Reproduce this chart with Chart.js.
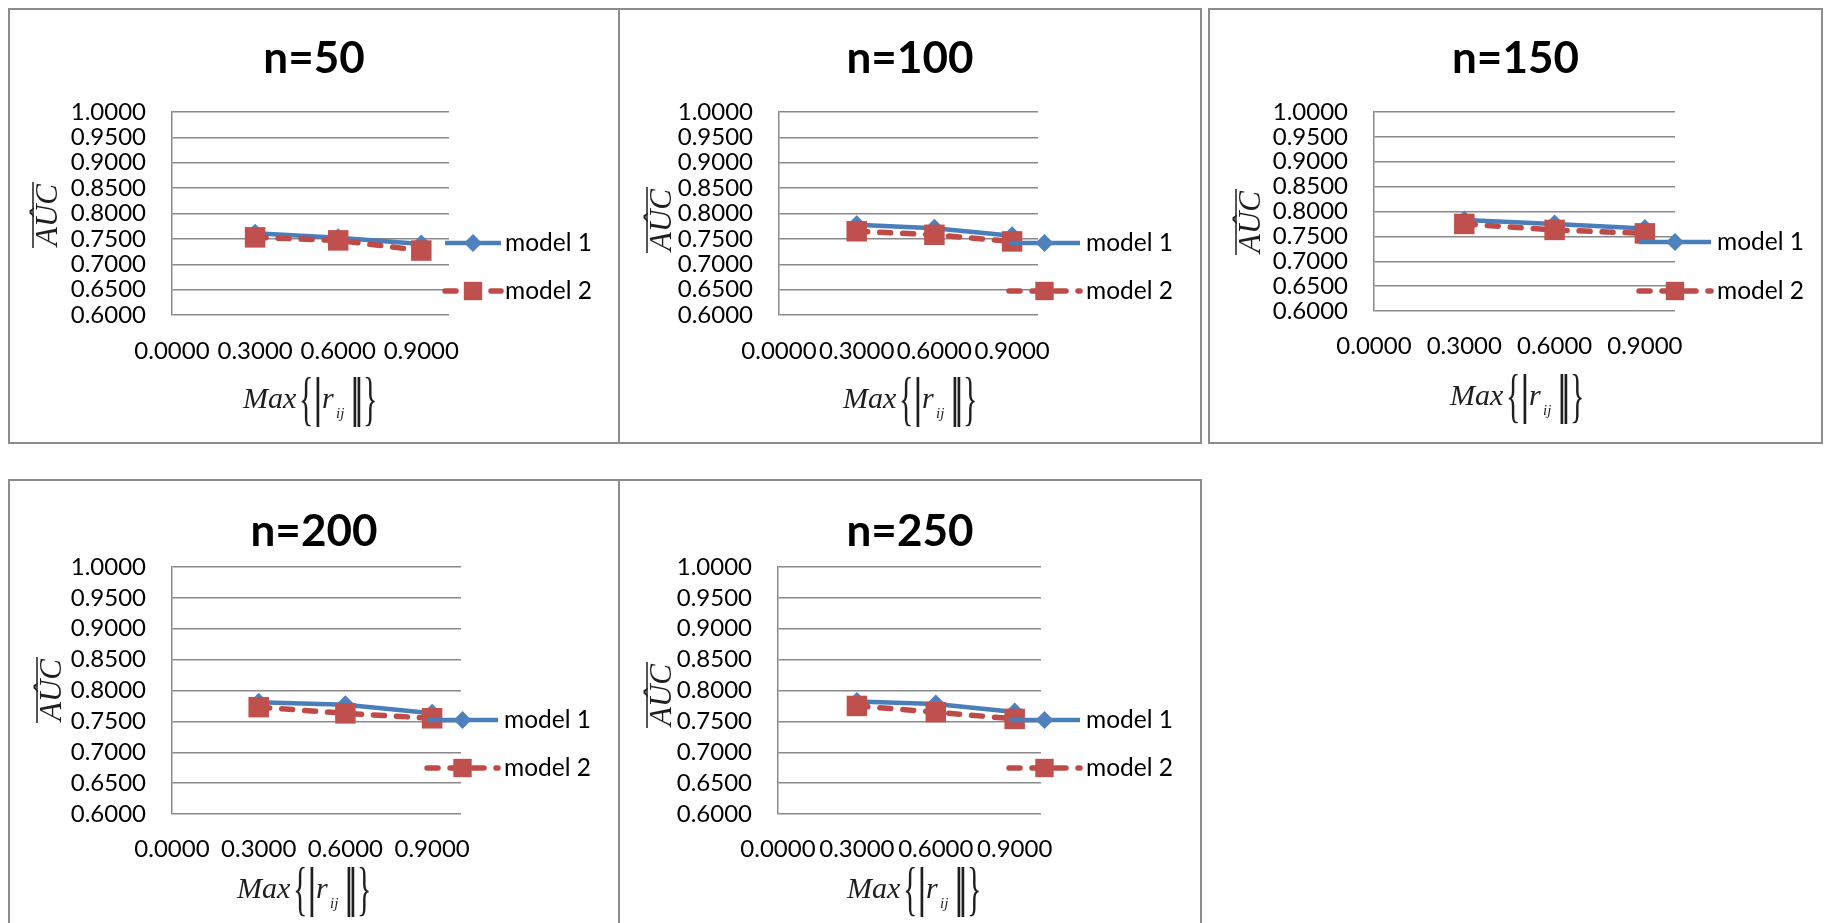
<!DOCTYPE html>
<html>
<head>
<meta charset="utf-8">
<script src="https://cdn.jsdelivr.net/npm/chart.js@4.4.1/dist/chart.umd.min.js"></script>
<style>
html, body { margin: 0; padding: 0; background: #fff; overflow: hidden; width: 1827px; height: 923px; }
.panel { position: absolute; border: 2px solid #8c8c8c; box-sizing: border-box; background: #fff; }
.panel canvas { position: absolute; left: 0; top: 0; }
</style>
</head>
<body>
<script>
// values
const xValues = [0.3, 0.6, 0.9];
const xTicks = [0, 0.3, 0.6, 0.9];
const yTicks = [0.6, 0.65, 0.7, 0.75, 0.8, 0.85, 0.9, 0.95, 1.0];
const titles = ['n=50', 'n=100', 'n=150', 'n=200', 'n=250'];
const seriesNames = ['model 1', 'model 2'];

const model1_n50 = [0.761, 0.752, 0.740];
const model2_n50 = [0.753, 0.747, 0.727];
const model1_n100 = [0.778, 0.771, 0.756];
const model2_n100 = [0.765, 0.758, 0.745];
const model1_n150 = [0.783, 0.775, 0.766];
const model2_n150 = [0.775, 0.763, 0.756];
const model1_n200 = [0.781, 0.777, 0.763];
const model2_n200 = [0.773, 0.763, 0.755];
const model1_n250 = [0.782, 0.778, 0.765];
const model2_n250 = [0.775, 0.765, 0.754];

const model1 = [model1_n50, model1_n100, model1_n150, model1_n200, model1_n250];
const model2 = [model2_n50, model2_n100, model2_n150, model2_n200, model2_n250];

// page positions of each panel (px)
const layouts = [
  { box: [8, 8, 612, 436], plot: [172, 449, 112, 315], titleY: 59, xLabY: 351,
    leg: [445, 501, 505, 243, 291], yTitle: [49, 215], xTitle: [308, 408] },
  { box: [618, 8, 584, 436], plot: [779, 1038, 112, 315], titleY: 59, xLabY: 351,
    leg: [1009, 1080, 1086, 243, 291], yTitle: [663, 220], xTitle: [908, 408] },
  { box: [1208, 8, 615, 436], plot: [1374, 1675, 112, 311], titleY: 59, xLabY: 346,
    leg: [1639, 1711, 1717, 242, 291], yTitle: [1252, 222], xTitle: [1515, 405] },
  { box: [8, 479, 612, 460], plot: [172, 461, 567, 814], titleY: 532, xLabY: 849,
    leg: [427, 498, 504, 720, 768], yTitle: [53, 690], xTitle: [302, 898] },
  { box: [618, 479, 584, 460], plot: [778, 1041, 567, 814], titleY: 532, xLabY: 849,
    leg: [1009, 1080, 1086, 720, 768], yTitle: [663, 695], xTitle: [912, 898] }
];

Chart.defaults.font.family = 'Lato';
Chart.defaults.color = '#000';

function marker(ctx, style, r, x, y) {
  ctx.beginPath();
  if (style === 'rectRot') {
    ctx.moveTo(x - r, y); ctx.lineTo(x, y - r); ctx.lineTo(x + r, y); ctx.lineTo(x, y + r);
  } else {
    const h = r * Math.SQRT1_2;
    ctx.rect(x - h, y - h, 2 * h, 2 * h);
  }
  ctx.closePath();
  ctx.fill();
}

function drawMaxTitle(ctx, cx, base) {
  ctx.save();
  ctx.fillStyle = '#1e1e1e';
  ctx.textAlign = 'left';
  ctx.textBaseline = 'alphabetic';
  const x0 = cx - 65;
  ctx.font = 'italic 30px "Liberation Serif"';
  ctx.fillText('Max', x0, base);
  const brace = (ch, x) => {
    ctx.save();
    ctx.font = '60px "Liberation Serif"';
    ctx.translate(x, base + 10);
    ctx.scale(0.5, 1);
    ctx.fillText(ch, 0, 0);
    ctx.restore();
  };
  const bar = (x) => {
    ctx.save();
    ctx.font = '54px "Liberation Serif"';
    ctx.textAlign = 'center';
    ctx.fillText('|', x, base + 7);
    ctx.restore();
  };
  brace('{', x0 + 56);
  bar(x0 + 75);
  ctx.font = 'italic 30px "Liberation Serif"';
  ctx.fillText('r', x0 + 79, base);
  ctx.font = 'italic 15px "Liberation Serif"';
  ctx.fillText('ij', x0 + 93, base + 10);
  bar(x0 + 112);
  bar(x0 + 116);
  brace('}', x0 + 120);
  ctx.restore();
}

const decor = {
  id: 'decor',
  afterDraw(chart, args, o) {
    const ctx = chart.ctx;
    const [ox, oy] = o.origin;
    const L = o.layout;
    // legend
    chart.data.datasets.forEach((ds, i) => {
      const y = L.leg[3 + i] - oy;
      const x0 = L.leg[0] - ox, x1 = L.leg[1] - ox;
      ctx.save();
      ctx.strokeStyle = ds.borderColor;
      ctx.lineWidth = ds.borderWidth;
      ctx.lineCap = ds.borderCapStyle || 'butt';
      ctx.setLineDash(ds.borderDash || []);
      ctx.beginPath(); ctx.moveTo(x0, y); ctx.lineTo(x1, y); ctx.stroke();
      ctx.setLineDash([]);
      ctx.fillStyle = ds.pointBackgroundColor;
      marker(ctx, ds.pointStyle, ds.legendRadius, (x0 + x1) / 2, y);
      ctx.fillStyle = '#000';
      ctx.font = '24.5px Lato';
      ctx.textBaseline = 'middle';
      ctx.textAlign = 'left';
      ctx.fillText(ds.label, L.leg[2] - ox, y);
      ctx.restore();
    });
    // y axis title
    ctx.save();
    ctx.translate(L.yTitle[0] - ox, L.yTitle[1] - oy);
    ctx.rotate(-Math.PI / 2);
    ctx.font = 'italic 31px "Liberation Serif"';
    ctx.fillStyle = '#1e1e1e';
    ctx.textAlign = 'center';
    ctx.textBaseline = 'middle';
    ctx.fillText('A\u00DBC', 0, 0);
    const w = ctx.measureText('A\u00DBC').width;
    ctx.strokeStyle = '#1e1e1e';
    ctx.lineWidth = 1.5;
    ctx.beginPath(); ctx.moveTo(-w / 2 - 2, -16); ctx.lineTo(w / 2 + 2, -16); ctx.stroke();
    ctx.restore();
    // x axis title
    drawMaxTitle(ctx, L.xTitle[0] - ox, L.xTitle[1] - oy);
  }
};

layouts.forEach((L, k) => {
  const [bl, bt, bw, bh] = L.box;
  const div = document.createElement('div');
  div.className = 'panel';
  div.style.left = bl + 'px';
  div.style.top = bt + 'px';
  div.style.width = bw + 'px';
  div.style.height = bh + 'px';
  const canvas = document.createElement('canvas');
  const W = bw - 4, H = bh - 4;
  canvas.width = W; canvas.height = H;
  canvas.style.width = W + 'px'; canvas.style.height = H + 'px';
  div.appendChild(canvas);
  document.body.appendChild(div);

  const ox = bl + 2, oy = bt + 2;
  const pl = L.plot[0] - ox, pr = L.plot[1] - ox, pt = L.plot[2] - oy, pb = L.plot[3] - oy;
  const titleSize = 44;
  const titleLH = titleSize * 1.2;
  const tPadTop = (L.titleY - oy) - titleLH / 2;
  const tPadBottom = pt - tPadTop - titleLH;
  const xPad = (L.xLabY - L.plot[3]) - 24 * 1.2 / 2;

  new Chart(canvas, {
    type: 'line',
    data: {
      datasets: [
        {
          label: seriesNames[0],
          data: xValues.map((x, i) => ({ x: x, y: model1[k][i] })),
          borderColor: '#4A7EBB',
          borderWidth: 4.5,
          pointStyle: 'rectRot',
          pointRadius: 9.5,
          pointBorderWidth: 0,
          pointBackgroundColor: '#4F81BD',
          legendRadius: 9,
          order: 1
        },
        {
          label: seriesNames[1],
          data: xValues.map((x, i) => ({ x: x, y: model2[k][i] })),
          borderColor: '#BE4B48',
          borderWidth: 5.5,
          borderDash: [11, 12],
          borderCapStyle: 'round',
          pointStyle: 'rect',
          pointRadius: 14.5,
          pointBorderWidth: 0,
          pointBackgroundColor: '#C0504D',
          legendRadius: 13,
          order: 0
        }
      ]
    },
    options: {
      responsive: false,
      animation: false,
      devicePixelRatio: 1,
      layout: { padding: 0 },
      plugins: {
        legend: { display: false },
        tooltip: { enabled: false },
        title: {
          display: true,
          text: titles[k],
          color: '#000',
          font: { size: titleSize, weight: 'bold', family: 'Lato' },
          padding: { top: tPadTop, bottom: tPadBottom }
        },
        decor: { origin: [ox, oy], layout: L }
      },
      scales: {
        x: {
          type: 'linear',
          min: 0,
          max: 1,
          afterBuildTicks: s => { s.ticks = xTicks.map(v => ({ value: v })); },
          afterFit: s => { s.height = H - pb; },
          ticks: {
            autoSkip: false, maxRotation: 0, minRotation: 0,
            padding: xPad,
            font: { size: 24 },
            color: '#000',
            callback: v => Number(v).toFixed(4)
          },
          grid: { display: false, drawTicks: false },
          border: { display: false }
        },
        y: {
          min: 0.6,
          max: 1.0,
          afterBuildTicks: s => { s.ticks = yTicks.map(v => ({ value: v })); },
          afterFit: s => { s.width = pl; },
          ticks: {
            autoSkip: false,
            padding: 26,
            font: { size: 24 },
            color: '#000',
            callback: v => Number(v).toFixed(4)
          },
          grid: { color: '#898989', lineWidth: 1.5, drawTicks: false },
          border: { display: true, color: '#898989', width: 1.5 }
        },
        // empty right-hand axis that reserves the legend space
        yRight: {
          type: 'linear',
          axis: 'y',
          position: 'right',
          min: 0.6,
          max: 1.0,
          afterFit: s => { s.width = W - pr; },
          ticks: { display: false },
          grid: { display: false, drawTicks: false },
          border: { display: false }
        }
      }
    },
    plugins: [decor]
  });
});
</script>
</body>
</html>
